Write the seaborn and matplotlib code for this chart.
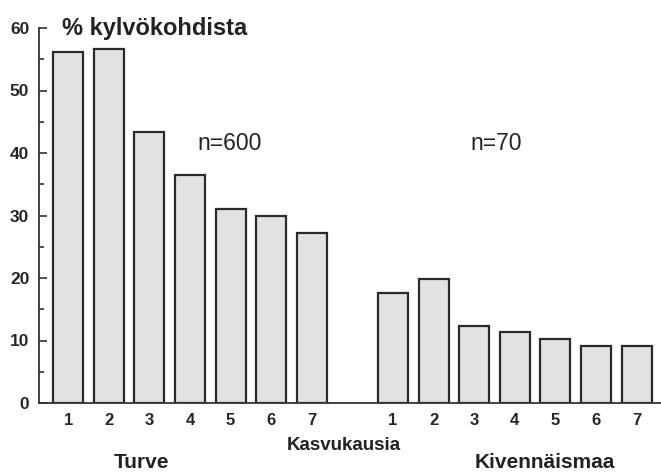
import numpy as np
import pandas as pd
import matplotlib
matplotlib.use("Agg")
import matplotlib.pyplot as plt
import seaborn as sns
from matplotlib.ticker import MultipleLocator

# Share of sowing spots (%) by growing seasons, peat vs mineral soil
seasons = ["1", "2", "3", "4", "5", "6", "7"]
turve = [56.2, 56.6, 43.3, 36.5, 31.0, 29.9, 27.2]
kivennais = [17.6, 19.8, 12.3, 11.3, 10.2, 9.1, 9.1]
groups = ["Turve", "Kivennäismaa"]
n_labels = ["n=600", "n=70"]

pos_turve = list(range(7))
pos_kiv = list(range(8, 15))

df = pd.DataFrame({
    "pos": pos_turve + pos_kiv,
    "value": turve + kivennais,
    "group": [groups[0]] * 7 + [groups[1]] * 7,
})

sns.set_theme(style="white")
plt.rcParams["font.family"] = ["Liberation Sans", "DejaVu Sans"]

fig = plt.figure(figsize=(6.61, 4.75), dpi=100)
ax = fig.add_axes([39 / 661, 72 / 475, 622 / 661, 375 / 475])

sns.barplot(data=df, x="pos", y="value", native_scale=True, width=0.74,
            color="#e2e2e2", saturation=1, edgecolor="#2a2a2a", linewidth=1.6,
            errorbar=None, ax=ax)

ax.set_xlim(-0.72, 14.6)
ax.set_ylim(0, 60)
ax.set_xticks(pos_turve + pos_kiv)
ax.set_xticklabels(seasons + seasons, fontsize=12, fontweight="bold")
ax.tick_params(axis="x", length=0, pad=7)
ax.yaxis.set_major_locator(MultipleLocator(10))
ax.yaxis.set_minor_locator(MultipleLocator(5))
ax.tick_params(axis="y", which="major", left=True, direction="in", length=5.5,
               width=1.2, color="#333333", labelsize=12.5, pad=7)
ax.tick_params(axis="y", which="minor", left=True, direction="in", length=3.5,
               width=1.2, color="#333333")
for lbl in ax.get_yticklabels():
    lbl.set_fontweight("bold")
ax.set_xlabel("")
ax.set_ylabel("")

for side in ["top", "right"]:
    ax.spines[side].set_visible(False)
for side in ["left", "bottom"]:
    ax.spines[side].set_color("#333333")
    ax.spines[side].set_linewidth(1.3)

fig.text(62 / 661, 1 - 28 / 475, "% kylvökohdista", fontsize=17,
         fontweight="bold", ha="left", va="center", color="#222222")
ax.text(3.98, 41.5, n_labels[0], fontsize=16.5, ha="center", va="center", color="#222222")
ax.text(10.55, 41.5, n_labels[1], fontsize=16.5, ha="center", va="center", color="#222222")

fig.text(344 / 661, 1 - 446 / 475, "Kasvukausia", fontsize=13.5,
         fontweight="bold", ha="center", va="center", color="#222222")
fig.text(142 / 661, 1 - 463 / 475, groups[0], fontsize=15,
         fontweight="bold", ha="center", va="center", color="#222222")
fig.text(545 / 661, 1 - 463 / 475, groups[1], fontsize=15,
         fontweight="bold", ha="center", va="center", color="#222222")

fig.savefig("out.png", dpi=100)
